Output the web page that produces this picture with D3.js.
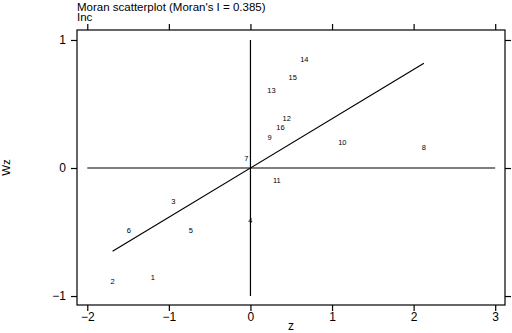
<!DOCTYPE html>
<html>
<head>
<meta charset="utf-8">
<script src="https://cdn.jsdelivr.net/npm/d3@7"></script>
<style>
  body { margin: 0; background: #fff; }
  text { font-family: "Liberation Sans", Arial, sans-serif; fill: #000; }
</style>
</head>
<body>
<div class="chart"></div>
<script>
// observations: standardised value z and its spatial lag Wz
const ids = [1, 2, 3, 4, 5, 6, 7, 8, 9, 10, 11, 12, 13, 14, 15, 16];
const zVals = [-1.195, -1.69, -0.946, 0.0, -0.73, -1.49, -0.05, 2.126, 0.233, 1.126, 0.323, 0.445, 0.257, 0.661, 0.519, 0.367];
const wzVals = [-0.852, -0.886, -0.258, -0.41, -0.49, -0.49, 0.075, 0.161, 0.237, 0.2, -0.099, 0.385, 0.609, 0.848, 0.708, 0.315];
const moranI = 0.385;
const xTicks = [-2, -1, 0, 1, 2, 3];
const yTicks = [-1, 0, 1];
const title = "Moran scatterplot (Moran's I = 0.385)";
const subtitle = "Inc";

let width = 512, height = 333;
let margin = {top: 30, right: 7, bottom: 28, left: 77};
let w = width - margin.left - margin.right;
let h = height - margin.top - margin.bottom;

let svg = d3.select(".chart").append("svg")
            .attr("width", width)
            .attr("height", height);

let x = d3.scaleLinear().domain([-2.126, 3.12]).range([0, w]);
let y = d3.scaleLinear().domain([-1.07, 1.078]).range([h, 0]);

let g = svg.append("g")
           .attr("transform", "translate(" + margin.left + "," + margin.top + ")");

g.append("rect")
 .attr("width", w).attr("height", h)
 .attr("fill", "none").attr("stroke", "#000").attr("stroke-width", 1.2);

// axes on all four sides
let axes = [
  [d3.axisBottom(x), "translate(0," + h + ")", true, 1.5],
  [d3.axisTop(x), "translate(0,0)", false, 3],
  [d3.axisLeft(y), "translate(0,0)", true, 5],
  [d3.axisRight(y), "translate(" + w + ",0)", false, 3]
];
axes.forEach(function(a, i){
  let ax = a[0].tickSizeOuter(0).tickSizeInner(6).tickPadding(a[3])
              .tickValues(i < 2 ? xTicks : yTicks)
              .tickFormat(a[2] ? d3.format("d") : "");
  let sel = g.append("g").attr("transform", a[1]).call(ax);
  sel.select(".domain").remove();
  sel.selectAll("line").attr("stroke", "#000").attr("stroke-width", 1.2);
  sel.selectAll("text").style("font-size", "12px").style("font-family", "Liberation Sans, Arial, sans-serif");
});

// reference lines through the origin
g.append("line")
 .attr("x1", x(-2)).attr("x2", x(3)).attr("y1", y(0)).attr("y2", y(0))
 .attr("stroke", "#000").attr("stroke-width", 1.2);
g.append("line")
 .attr("x1", x(0)).attr("x2", x(0)).attr("y1", y(1)).attr("y2", y(-1))
 .attr("stroke", "#000").attr("stroke-width", 1.2);

// regression line, slope = Moran's I, over the range of z
let zMin = d3.min(zVals), zMax = d3.max(zVals);
g.append("line")
 .attr("x1", x(zMin)).attr("y1", y(moranI * zMin))
 .attr("x2", x(zMax)).attr("y2", y(moranI * zMax))
 .attr("stroke", "#000").attr("stroke-width", 1.2);

g.selectAll(".lbl")
 .data(ids)
 .enter()
 .append("text")
 .attr("class", "lbl")
 .attr("x", (d, i) => x(zVals[i]))
 .attr("y", (d, i) => y(wzVals[i]))
 .attr("text-anchor", "middle")
 .attr("dominant-baseline", "central")
 .style("font-size", "7.5px")
 .text(d => d);

svg.append("text").attr("x", margin.left).attr("y", 10.5)
   .style("font-size", "11.5px").text(title);
svg.append("text").attr("x", margin.left).attr("y", 20.5)
   .style("font-size", "11.5px").text(subtitle);

svg.append("text")
   .attr("x", margin.left + w / 2).attr("y", 330)
   .attr("text-anchor", "middle")
   .style("font-size", "12px").text("z");
svg.append("text")
   .attr("transform", "translate(10," + (margin.top + h / 2) + ") rotate(-90)")
   .attr("text-anchor", "middle")
   .style("font-size", "11.5px").text("Wz");
</script>
</body>
</html>
